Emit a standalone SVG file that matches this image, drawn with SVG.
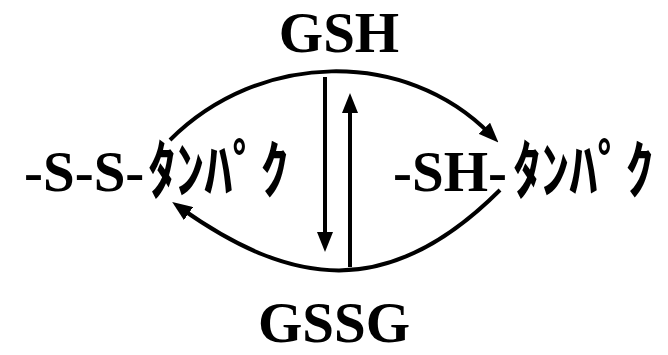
<svg xmlns="http://www.w3.org/2000/svg" width="668" height="355" viewBox="0 0 668 355">
<style>
.lat{font-family:"Liberation Serif","Times New Roman",serif;font-weight:bold;font-size:57px;fill:#000}
.kana{font-family:"Noto Sans CJK JP","Noto Sans CJK SC",sans-serif;font-weight:bold;font-size:64px;fill:#000}
.ln{fill:none;stroke:#000;stroke-width:4}
</style>
<defs>
<marker id="ah" markerUnits="userSpaceOnUse" viewBox="0 0 20 16" refX="8" refY="8" markerWidth="20" markerHeight="16" orient="auto">
<path d="M0,0 L20,8 L0,16 z" fill="#000"/>
</marker>
</defs>
<rect width="668" height="355" fill="#fff"/>
<g id="connectors">
<path class="ln" d="M170,140 C259,51 405,48 490,134" marker-end="url(#ah)"/>
<path class="ln" d="M500,190 C387,303 290,285 182,209" marker-end="url(#ah)"/>
<path class="ln" d="M325,77 L325,240" marker-end="url(#ah)"/>
<path class="ln" d="M350,267 L350,105" marker-end="url(#ah)"/>
</g>
<g id="gsh"><text class="lat" x="339" y="52" text-anchor="middle">GSH</text></g>
<g id="gssg"><text class="lat" x="334" y="342" text-anchor="middle">GSSG</text></g>
<g id="ss-protein">
<text class="lat" x="24" y="191">-S-S-</text>
<text class="kana" transform="translate(148,193) scale(0.88,1)">ﾀﾝﾊﾟｸ</text>
</g>
<g id="sh-protein">
<text class="lat" x="393" y="191">-SH-</text>
<text class="kana" transform="translate(513,193) scale(0.88,1)">ﾀﾝﾊﾟｸ</text>
</g>
</svg>
